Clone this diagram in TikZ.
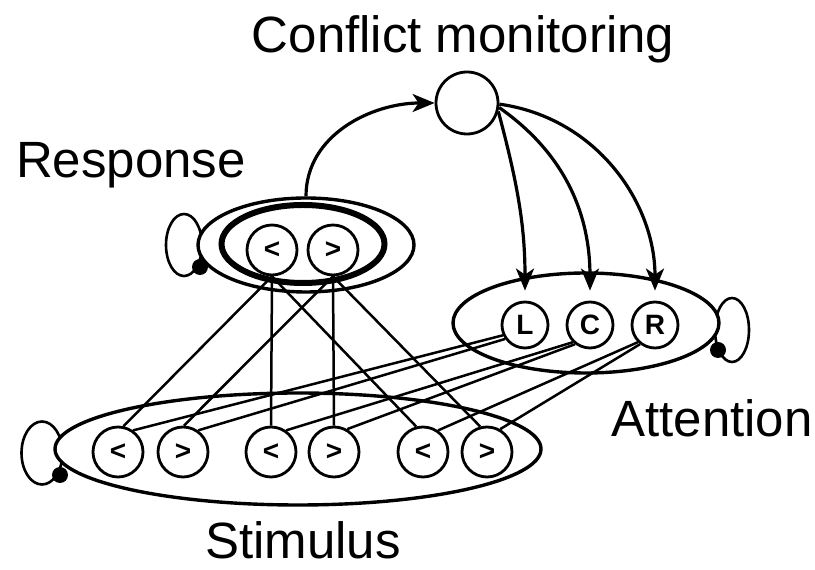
\documentclass[tikz,border=0pt]{standalone}
\usepackage{fontspec}
\setmainfont{Liberation Sans}
\usetikzlibrary{arrows.meta, shapes.geometric}
\tikzset{
  layer/.style={ellipse, draw, line width=3.4pt, fill=white, inner sep=0pt},
  unit/.style={circle, draw, line width=2.8pt, fill=white, inner sep=0pt,
               minimum size=#1, font=\fontsize{28}{28}\selectfont\bfseries},
  unit/.default=50pt,
  loopring/.style={ellipse, draw, line width=2.6pt, inner sep=0pt},
  loopdot/.style={circle, fill=black, inner sep=0pt, minimum size=16pt},
  link/.style={line width=2.5pt},
  arrow/.style={-{Stealth[length=22pt, width=18pt, inset=6pt]}, line width=3.2pt},
  label/.style={font=\fontsize{51}{51}\selectfont, anchor=base, inner sep=0pt},
}

\begin{document}
\begin{tikzpicture}[x=1pt, y=1pt]

  \useasboundingbox (0,0) rectangle (815,570);

  % Labels
  \node[label] (conflictlbl) at (463,517) {Conflict monitoring};
  \node[label] (responselbl) at (131,392) {Response};
  \node[label] (attentionlbl) at (712,133) {Attention};
  \node[label] (stimuluslbl) at (303,11) {Stimulus};

  % Self-excitation loops (behind the layers)
  \node[loopring, minimum width=36pt, minimum height=62pt] (resploop) at (184,325) {};
  \node[loopring, minimum width=34pt, minimum height=64pt] (attloop) at (732,240) {};
  \node[loopring, minimum width=41pt, minimum height=63pt] (stimloop) at (42,117) {};

  % Layers
  \node[layer, minimum width=216pt, minimum height=94pt] (resp) at (306,325) {};
  \node[layer, line width=6pt, minimum width=163pt, minimum height=78pt]
    (respinner) at (303,326) {};
  \node[layer, minimum width=266pt, minimum height=100pt] (att) at (586,247) {};
  \node[layer, minimum width=486pt, minimum height=112pt] (stim) at (298,121) {};

  \node[loopdot] (respdot) at (200,303) {};
  \node[loopdot] (attdot) at (718,220) {};
  \node[loopdot] (stimdot) at (60,95) {};

  % Units
  \node[circle, draw, line width=2.8pt, minimum size=62pt, inner sep=0pt]
    (conf) at (467,467) {};

  \node[unit] (rl) at (272,320) {<};
  \node[unit] (rr) at (333,320) {>};

  \node[unit=46pt] (L) at (525,245) {L};
  \node[unit=46pt] (C) at (590,245) {C};
  \node[unit=46pt] (R) at (655,245) {R};

  \node[unit] (s1) at (118,118) {<};
  \node[unit] (s2) at (183,118) {>};
  \node[unit] (s3) at (271,118) {<};
  \node[unit] (s4) at (334,118) {>};
  \node[unit] (s5) at (423,118) {<};
  \node[unit] (s6) at (487,118) {>};

  % Response to stimulus
  \draw[link] (rl.south) -- (s1.78);
  \draw[link] (rl.south) -- (s3.north);
  \draw[link] (rl.south) -- (s5.105);
  \draw[link] (rr.south) -- (s2.88);
  \draw[link] (rr.south) -- (s4.north);
  \draw[link] (rr.south) -- (s6.105);

  % Attention to stimulus
  \draw[link] (L.205) -- (s1.55);
  \draw[link] (L.215) -- (s2.55);
  \draw[link] (C.225) -- (s3.55);
  \draw[link] (C.232) -- (s4.60);
  \draw[link] (R.225) -- (s5.55);
  \draw[link] (R.232) -- (s6.60);

  % Conflict loop
  \draw[arrow] (resp.north) to[out=90, in=180] (conf.west);
  \draw[arrow, shorten >=10pt] (conf.-15) to[out=-75, in=90] (L.north);
  \draw[arrow, shorten >=10pt] (conf.-8) to[out=-35, in=90] (C.north);
  \draw[arrow, shorten >=10pt] (conf.-2) to[out=-8, in=90] (R.north);

\end{tikzpicture}
\end{document}
